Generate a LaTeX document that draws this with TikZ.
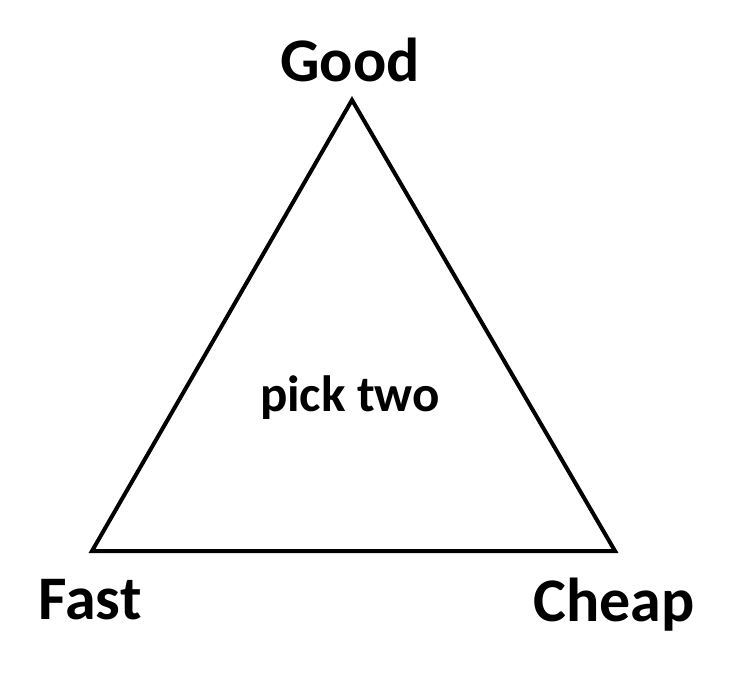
\documentclass[tikz,border=0pt]{standalone}
\usepackage{fontspec}
\setmainfont{Carlito}
\begin{document}
\begin{tikzpicture}[x=1pt,y=1pt,line width=4pt,font=\bfseries\fontsize{62}{66}\selectfont]
\useasboundingbox (0,0) rectangle (735,675);
\coordinate (top) at (352,575);\coordinate (left) at (92,124);\coordinate (right) at (615,124);
\draw[line join=miter] (top)--(right)--(left)--cycle;
\node (good) at (350,615) {Good};\node (fast) at (90,75) {Fast};
\node (cheap) at (614,70) {Cheap};\node (pick) at (350,277) {\fontsize{51}{56}\selectfont pick two};
\end{tikzpicture}
\end{document}
